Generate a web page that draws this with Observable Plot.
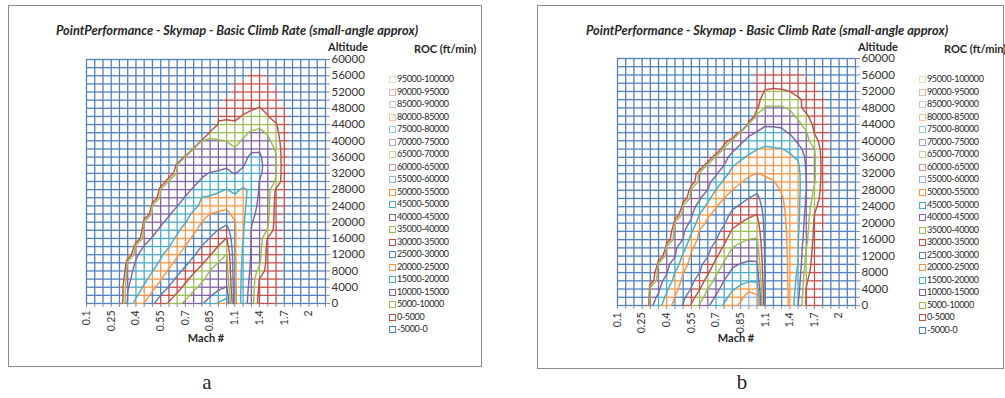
<!DOCTYPE html>
<html>
<head>
<meta charset="utf-8">
<script src="https://cdn.jsdelivr.net/npm/d3@7"></script>
<script src="https://cdn.jsdelivr.net/npm/@observablehq/plot@0.6"></script>
<style>
  body { margin: 0; background: #fff; }
  #page { position: relative; width: 1005px; height: 398px; overflow: hidden; background: #fff;
          font-family: Lato, "Open Sans", sans-serif; color: #262626; }
  .box { position: absolute; border: 1px solid #8c8c8c; box-sizing: border-box; }
  .title { position: absolute; font-weight: bold; font-style: italic; font-size: 12.8px; white-space: nowrap;
           transform: translateX(-50%); }
  .lbl { position: absolute; font-weight: bold; font-size: 11px; white-space: nowrap; }
  .leg { position: absolute; font-size: 9px; letter-spacing: -0.35px; white-space: nowrap; line-height: 10px; }
  .leg i { display: inline-block; width: 5px; height: 5px; border: 1px solid; background: #fff;
           margin-right: 1px; vertical-align: -1px; }
  .cap { position: absolute; font-family: "Liberation Serif", "DejaVu Serif", serif; font-size: 21px;
         transform: translateX(-50%); }
  .chart { position: absolute; }
</style>
</head>
<body>
<div id="page"></div>
<script>
// Mach number categories along the horizontal axis
const machLabels = ["0.1","0.15","0.2","0.25","0.3","0.35","0.4","0.45","0.5","0.55","0.6","0.65","0.7","0.75",
  "0.8","0.85","0.9","1","1.1","1.2","1.3","1.4","1.5","1.6","1.7","1.8","1.9","2","2.1","2.2"];

// Altitude rows (ft)
const altitudes = [0,2000,4000,6000,8000,10000,12000,14000,16000,18000,20000,22000,24000,26000,28000,30000,
  32000,34000,36000,38000,40000,42000,44000,46000,48000,50000,52000,54000,56000,58000,60000];

// ROC bands of the legend, lowest first, and the colour of each band
const bandLabels = ["-5000-0","0-5000","5000-10000","10000-15000","15000-20000","20000-25000","25000-30000",
  "30000-35000","35000-40000","40000-45000","45000-50000","50000-55000","55000-60000","60000-65000",
  "65000-70000","70000-75000","75000-80000","80000-85000","85000-90000","90000-95000","95000-100000"];
const bandColors = ["#4F81BD","#C0504D","#9BBB59","#8064A2","#4BACC6","#F79646","#4F81BD","#C0504D",
  "#9BBB59","#8064A2","#4BACC6","#F79646","#95B3D7","#D99694","#C3D69B","#B3A2C7","#93CDDD","#FAC090",
  "#B9CDE5","#E6B9B8","#D7E4BD"];

// Climb rate, thousands of ft/min: one row per altitude (0 ft first), one value per Mach category
const rocA = [
  [-20,-20,-20,-20,-2,15.8,21.7,25.2,29.2,32.5,35.6,38.5,40.9,42.7,44.5,47.5,50.5,52,27,17,13,2.5,1.5,0.5,-2,-4,-5,-5,-5,-5],
  [-20,-20,-20,-20,-3,15.2,19.2,22.7,26.2,30.1,32.9,35.9,38.8,41,42.8,44.5,46.8,49,26.5,17.3,13.2,3,2,0.8,-2,-4,-5,-5,-5,-5],
  [-20,-20,-20,-20,-2,14.7,17.6,20.6,23.8,27,30.3,33.2,36.2,39.1,41,42.4,43.9,45.2,26.5,17.6,13.5,4,2.5,1,-1.5,-4,-5,-5,-5,-5],
  [-20,-20,-20,-20,-6,14,16.6,18.9,21.6,24.7,27.8,30.9,33.8,36.7,39.4,41.1,42.6,44,26.2,18,13.8,4.8,3,1.5,-1,-4,-5,-5,-5,-5],
  [-20,-20,-20,-20,-12,13.5,16,17.9,19.8,22.6,25.6,28.5,31.4,34.2,37.1,40.2,41.2,42.5,26,18.4,14.2,8,3,1.8,-0.3,-4,-5,-5,-5,-5],
  [-20,-20,-20,-20,-25,12.5,15.3,17,18.7,20.6,23.5,26.3,28.9,31.7,34.4,37.4,40.1,41.5,26,18.8,14.5,10.8,3,1.8,-0.3,-4,-5,-5,-5,-5],
  [-20,-20,-20,-20,-20,-3,14.5,16.3,17.8,19.4,21.7,24.4,27,29.5,32.1,34.7,37.6,40.2,25.8,19.2,14.6,11.5,3.2,2,-0.3,-4,-5,-5,-5,-5],
  [-20,-20,-20,-20,-20,-20,13,15.2,16.6,18.2,19.8,22.5,25.2,27.6,30.2,32.5,35.2,37.5,25.7,19.6,14.7,12.2,3.5,2,-0.3,-4,-5,-5,-5,-5],
  [-20,-20,-20,-20,-20,-20,-4,13.5,15.3,17,18.7,20.6,23.3,25.9,28,30.3,32.8,35.2,25.6,20.2,14.8,12.8,4.5,2.2,-0.2,-4,-5,-5,-5,-5],
  [-20,-20,-20,-20,-20,-20,-15,12,13.9,15.7,17.5,19.3,21.6,24.2,26.3,28.1,30.2,32,25.5,20.5,14.9,13,9.5,2.5,-0.2,-4,-5,-5,-5,-5],
  [-20,-20,-20,-20,-20,-20,-40,11,12.7,14.3,16.1,18,19.8,22.5,25.1,26.4,27.7,29,25.3,20.9,15.3,13.3,10.8,2.8,-0.2,-4,-5,-5,-5,-5],
  [-20,-20,-20,-20,-20,-20,-20,-6,11,12.8,14.6,16.6,18.6,20.7,22.8,25.1,25.8,26.5,23.5,21.2,16.2,13.6,11.2,3,-0.1,-4,-5,-5,-5,-5],
  [-20,-20,-20,-20,-20,-20,-20,-30,10.5,11.9,13.4,14.9,17,19.1,20.7,21.8,22.9,24,22,21.4,17.2,13.9,11.6,3.2,0.3,-3,-5,-5,-5,-5],
  [-20,-20,-20,-20,-20,-20,-20,-20,-4,11.5,12.7,13.9,15.2,17.6,20.1,20.7,21.3,22,20.8,21.3,18.2,14.2,12,3.5,0.5,-3,-5,-5,-5,-5],
  [-20,-20,-20,-20,-20,-20,-20,-20,-18,10.5,11.7,12.9,14.1,15.4,16.7,17.9,19.2,20.1,19,20.6,19.3,14.5,12.3,4.2,1,-2,-5,-5,-5,-5],
  [-20,-20,-20,-20,-20,-20,-20,-20,-20,-4,11,12.1,13.2,14.3,15.4,16.2,17.1,18,17,18,19.8,14.8,12.5,9.5,1.5,-1,-5,-5,-5,-5],
  [-20,-20,-20,-20,-20,-20,-20,-20,-20,-20,-2,11,12.2,13.4,14.5,15.2,15.6,16,14.8,16.2,18.8,15.8,13,10.2,1.5,-1,-5,-5,-5,-5],
  [-20,-20,-20,-20,-20,-20,-20,-20,-20,-20,-30,10.5,11.2,11.8,12.5,13.2,13.8,14.4,13.3,14.6,17.6,16.2,13,10.4,1.5,-1,-5,-5,-5,-5],
  [-20,-20,-20,-20,-20,-20,-20,-20,-20,-20,-20,-20,11,11.5,12,12.5,13,13.5,11.8,13.2,16.2,15.7,12.8,10.3,1.5,-1,-5,-5,-5,-5],
  [-20,-20,-20,-20,-20,-20,-20,-20,-20,-20,-20,-20,-40,10.6,10.8,11.1,11.3,11.5,10.3,11.8,14,14.5,12,9.5,1.5,-1,-5,-5,-5,-5],
  [-20,-20,-20,-20,-20,-20,-20,-20,-20,-20,-20,-20,-20,-40,10.5,10.6,10.3,9.9,8.6,10.5,12,13,11,8,1.5,-1,-5,-5,-5,-5],
  [-20,-20,-20,-20,-20,-20,-20,-20,-20,-20,-20,-20,-20,-20,-40,8.5,8.2,8,7.3,9,10.5,11,9.5,6.5,1.5,-1,-5,-5,-5,-5],
  [-20,-20,-20,-20,-20,-20,-20,-20,-20,-20,-20,-20,-20,-20,-20,-20,7,6.5,5.6,7.2,8.5,9,8,5.5,1.5,-1,-5,-5,-5,-5],
  [-20,-20,-20,-20,-20,-20,-20,-20,-20,-20,-20,-20,-20,-20,-20,-20,2.5,4,4.2,5.3,6.5,7,5.2,3,1,-1.5,-5,-5,-5,-5],
  [-20,-20,-20,-20,-20,-20,-20,-20,-20,-20,-20,-20,-20,-20,-20,-20,1,2.5,3.2,4,4.5,5.2,4,2.5,0.3,-2,-5,-5,-5,-5],
  [-20,-20,-20,-20,-20,-20,-20,-20,-20,-20,-20,-20,-20,-20,-20,-20,-2,1,2.4,3,3.8,4,3,1.5,-1,-3,-5,-5,-5,-5],
  [-20,-20,-20,-20,-20,-20,-20,-20,-20,-20,-20,-20,-20,-20,-20,-20,-5,-2,1.5,2,3,3.3,2.2,0.5,-2,-4,-5,-5,-5,-5],
  [-20,-20,-20,-20,-20,-20,-20,-20,-20,-20,-20,-20,-20,-20,-20,-20,-5,-4,0.3,1,2,2.2,1.2,-0.5,-3,-4,-5,-5,-5,-5],
  [-20,-20,-20,-20,-20,-20,-20,-20,-20,-20,-20,-20,-20,-20,-20,-20,-5,-5,-2,-1,0.8,1,-0.2,-2,-4,-5,-5,-5,-5,-5],
  [-20,-20,-20,-20,-20,-20,-20,-20,-20,-20,-20,-20,-20,-20,-20,-20,-5,-5,-4,-3,-2,-1.5,-3,-4,-5,-5,-5,-5,-5,-5],
  [-20,-20,-20,-20,-20,-20,-20,-20,-20,-20,-20,-20,-20,-20,-20,-20,-5,-5,-5,-5,-5,-5,-5,-5,-5,-5,-5,-5,-5,-5]
];

const rocB = [
  [-20,-20,-20,-30,13.5,18.3,22.7,26.5,30.5,35.6,40.7,44.3,47.5,50.6,53.2,56,58,57.5,29.5,28,26.5,24.6,15.1,4.5,2.1,-0.2,-2.2,-3.5,-4,-4],
  [-20,-20,-20,-40,13,15.8,21.3,25.1,28.9,32.9,37.8,42.2,45.6,48.8,51.4,54,57,56,29.4,28,26.5,24.6,16.05,4.7,2.2,-0.2,-2.2,-3.5,-4,-4],
  [-20,-20,-20,-60,12.5,14.2,19.2,23.4,27.6,30.3,34.7,40.1,43.5,46.9,49.6,51.1,54,52.9,29.3,28,26.4,24.6,17.4,4.9,2.3,-0.2,-2.2,-3.5,-4,-4],
  [-20,-20,-20,-20,-1,13.5,16.4,21.7,26.2,29,32.2,37.1,41.4,45.1,47.9,48.9,49.6,49.4,29.2,28,26.4,24.5,18.25,5.5,2.4,-0.2,-2.2,-3.5,-4,-4],
  [-20,-20,-20,-20,-5,12.8,14.6,20.1,24.8,27.9,29.9,34.3,39.2,42.9,46.1,47,47.7,47.5,29.1,28,26.3,24.5,19,6.75,2.55,-0.2,-2.2,-3.5,-4,-4],
  [-20,-20,-20,-20,-40,12.2,13.9,17.1,22.8,26.8,29,31.9,36.6,40.8,44.2,45.2,45.8,45.6,29,27.9,26.3,24.5,19.8,7.9,2.7,-0.2,-2.2,-3.5,-4,-4],
  [-20,-20,-20,-20,-20,-4,13.2,14.8,20.8,25.8,28.1,29.8,34.1,38.5,42.1,43.2,43.8,43.8,28.9,27.9,26.2,24.5,20.1,8.9,2.9,-0.2,-2.2,-3.5,-4,-4],
  [-20,-20,-20,-20,-20,-40,12.5,14.1,18.1,24.3,27.2,28.8,31.8,36,40.1,41.2,41.9,42.1,28.8,27.8,26.1,24.4,20.1,10.1,3.1,-0.2,-2.2,-3.5,-4,-4],
  [-20,-20,-20,-20,-20,-20,-1,13.4,15.1,21.9,26.3,27.8,29.8,33.7,37.8,39.2,40.1,40.3,28.6,27.7,26,24.4,20.4,11.4,3.5,-0.2,-2.2,-3.5,-4,-4],
  [-20,-20,-20,-20,-20,-20,-6,12.7,14.2,19.3,25.4,26.8,28.5,31.5,35.7,37.1,38.1,38.6,28.4,27.6,25.9,24.4,20.8,12,3.75,-0.2,-2.2,-3.5,-4,-4],
  [-20,-20,-20,-20,-20,-20,-40,12,13.5,15.7,23.2,25.8,27.3,29.5,33.5,35.1,36.3,36.8,28.2,27.4,25.8,24.3,21.1,12.7,4.3,0.7,-2.4,-2.5,-3.5,-4],
  [-20,-20,-20,-20,-20,-20,-20,-2,12.7,14.4,20.3,24.5,26.1,28,31.3,32.8,34.3,35.1,28,27.2,25.6,24.3,21.3,13.3,4.85,1.6,-1,-2.5,-3.5,-4],
  [-20,-20,-20,-20,-20,-20,-20,-30,12,13.6,16.5,21.8,24.8,26.5,29.2,30.7,32.2,33.1,27.6,26.9,25.4,24.2,21.5,14.1,6.1,2.5,-0.2,-2.5,-3.5,-4],
  [-20,-20,-20,-20,-20,-20,-20,-20,-1,12.8,14.5,18.8,22.5,25.1,27.1,28.6,30.1,31.2,27.2,26.5,25.2,24.2,21.6,14.4,8,2.8,-0.2,-2.5,-3.5,-4],
  [-20,-20,-20,-20,-20,-20,-20,-20,-15,12,13.7,15.1,20.2,23,25.1,26.6,28.1,29.2,26.6,25.9,24.8,23.8,21.7,15.1,9.1,3.1,-0.2,-2.5,-3.5,-4],
  [-20,-20,-20,-20,-20,-20,-20,-20,-20,-0.5,12.8,14,16.8,21,23.3,24.7,26.2,27.2,25.8,25.2,24,23.2,21.7,15.1,10.5,3.2,-0.2,-2.5,-3.5,-4],
  [-20,-20,-20,-20,-20,-20,-20,-20,-20,-5,12,13,14.4,18.3,21.6,22.9,24.3,25.2,24.6,24.2,23.2,22.5,21.6,14.8,10.8,3.5,-0.2,-2.5,-3.5,-4],
  [-20,-20,-20,-20,-20,-20,-20,-20,-20,-20,-4,12,13.2,15.1,19.7,21.2,22.5,23.4,23.2,22.8,22.2,21.6,20.9,14.4,10.7,3.5,-0.2,-2.5,-3.5,-4],
  [-20,-20,-20,-20,-20,-20,-20,-20,-20,-20,-20,-4,12,13.5,16.6,19.2,20.7,21.7,21.8,21.5,21.1,20.6,19.4,14,10.7,3.2,-0.2,-2.5,-3.5,-4],
  [-20,-20,-20,-20,-20,-20,-20,-20,-20,-20,-20,-20,-6,12,14,16.4,18.6,19.9,20.5,20.3,20.1,19.4,16.9,12.9,10.1,2.8,-0.2,-2.5,-3.5,-4],
  [-20,-20,-20,-20,-20,-20,-20,-20,-20,-20,-20,-20,-20,-1,12,14,16.2,17.6,19,18.8,18.5,17.5,14,11.7,7,2.6,-0.2,-2.5,-3.5,-4],
  [-20,-20,-20,-20,-20,-20,-20,-20,-20,-20,-20,-20,-20,-20,-10,12,14,15.2,16.5,16.2,16,14.5,12.1,10.5,4.75,2.25,-0.2,-2.5,-3.5,-4],
  [-20,-20,-20,-20,-20,-20,-20,-20,-20,-20,-20,-20,-20,-20,-20,-40,12,13.6,14.5,14.5,14.2,13.3,11.5,7.8,3.96,1.9,-0.2,-2.5,-3.5,-4],
  [-20,-20,-20,-20,-20,-20,-20,-20,-20,-20,-20,-20,-20,-20,-20,-20,-10,12,12.5,12.5,12.3,11.5,9,5.6,3.3,1.1,-1,-2.5,-3.5,-4],
  [-20,-20,-20,-20,-20,-20,-20,-20,-20,-20,-20,-20,-20,-20,-20,-20,-10,4,10.5,10.5,10.5,9.5,6,3.8,2.2,0.2,-1.5,-3.5,-4,-4],
  [-20,-20,-20,-20,-20,-20,-20,-20,-20,-20,-20,-20,-20,-20,-20,-20,-10,3,8,8.2,8.2,7.3,5.8,3.8,2,0.3,-1.5,-3.5,-4,-4],
  [-20,-20,-20,-20,-20,-20,-20,-20,-20,-20,-20,-20,-20,-20,-20,-20,-10,2,5.5,5.8,5.6,5,3.5,2.5,1.2,-0.5,-2,-3.5,-4,-4],
  [-20,-20,-20,-20,-20,-20,-20,-20,-20,-20,-20,-20,-20,-20,-20,-20,-10,1.5,3,3.5,3.3,3,2.2,1.5,0.3,-1.5,-2.5,-3.5,-4,-4],
  [-20,-20,-20,-20,-20,-20,-20,-20,-20,-20,-20,-20,-20,-20,-20,-20,-10,0.5,1,1.3,1.2,1,0.8,-0.3,-1.5,-2.5,-3,-4,-4,-4],
  [-20,-20,-20,-20,-20,-20,-20,-20,-20,-20,-20,-20,-20,-20,-20,-20,-10,-1,-1,-1,-1.5,-1.5,-1.8,-2.5,-3,-3.5,-4,-4,-4,-4],
  [-20,-20,-20,-20,-20,-20,-20,-20,-20,-20,-20,-20,-20,-20,-20,-20,-10,-3,-3,-3,-4,-4,-4,-4,-4,-4,-4,-4,-4,-4]
];

const titleText = "PointPerformance - Skymap - Basic Climb Rate (small-angle approx)";
const bandStep = 5;                 // contour interval, thousands of ft/min
const lineLevels = [5,10,15,20,25,30,35,40,45,50,55];

// colour index of the band a value falls in (values below zero use the lowest band)
const bandOf = v => v < 0 ? 0 : Math.min(bandColors.length - 1, Math.floor(v / bandStep) + 1);

// Wireframe: every mesh edge is cut where it crosses a band boundary, each piece coloured by its band
function meshPieces(rows) {
  const out = [];
  const edge = (x1, y1, v1, x2, y2, v2) => {
    const cuts = [0, 1];
    const lo = Math.min(v1, v2), hi = Math.max(v1, v2);
    for (let t = 0; t <= 100; t += bandStep) if (t > lo && t < hi) cuts.push((t - v1) / (v2 - v1));
    cuts.sort((a, b) => a - b);
    for (let k = 0; k < cuts.length - 1; k++) {
      const a = cuts[k], b = cuts[k + 1];
      if (b - a < 1e-9) continue;
      const vm = v1 + (v2 - v1) * (a + b) / 2;
      out.push({x1: x1 + (x2 - x1) * a, y1: y1 + (y2 - y1) * a, x2: x1 + (x2 - x1) * b, y2: y1 + (y2 - y1) * b,
                color: bandColors[bandOf(vm)]});
    }
  };
  rows.forEach((row, j) => row.forEach((v, i) => {
    if (i + 1 < row.length) edge(i, altitudes[j], v, i + 1, altitudes[j], row[i + 1]);
    if (j + 1 < rows.length) edge(i, altitudes[j], v, i, altitudes[j + 1], rows[j + 1][i]);
  }));
  return out;
}

function skymap(rows, m) {
  const cols = machLabels.length, nrows = altitudes.length;
  const dy = altitudes[1] - altitudes[0];
  const grid = rows.flat();
  return Plot.plot({
    width: 400, height: 350,
    marginLeft: m.left, marginRight: m.right, marginTop: m.top, marginBottom: m.bottom,
    style: {fontFamily: "Lato, 'Open Sans', sans-serif", background: "transparent"},
    x: {domain: [0, cols - 1], axis: null},
    y: {domain: [altitudes[0], altitudes[nrows - 1]], axis: null},
    color: {type: "identity"},
    marks: [
      Plot.frame({stroke: "#a6a6a6"}),
      Plot.link(meshPieces(rows), {x1: "x1", y1: "y1", x2: "x2", y2: "y2", stroke: "color", strokeWidth: 1.3}),
      ...lineLevels.map(t => Plot.contour(grid, {
        value: d => d, width: cols, height: nrows,
        x1: -0.5, x2: cols - 0.5, y1: altitudes[0] - dy / 2, y2: altitudes[nrows - 1] + dy / 2,
        thresholds: [t], fill: "none", stroke: bandColors[t / bandStep], strokeWidth: 1.45, clip: true
      })),
      Plot.axisX(d3.range(cols), {anchor: "bottom", tickFormat: i => i % 3 === 0 ? machLabels[i] : "",
        tickRotate: -90, tickSize: 4, tickPadding: 3, fontSize: 10.5, label: null,
        stroke: "#8c8c8c", color: "#333"}),
      Plot.axisY(altitudes, {anchor: "right", tickFormat: d => d % 4000 === 0 ? String(d) : "",
        tickSize: 4, tickPadding: 2, fontSize: 11.5, label: null, stroke: "#8c8c8c", color: "#333"})
    ]
  });
}

const page = document.getElementById("page");
function add(html) { page.insertAdjacentHTML("beforeend", html); return page.lastElementChild; }

const panels = [
  {rows: rocA, svgLeft: 0, m: {left: 86, right: 75, top: 59, bottom: 47},
   box: [8, 5, 474, 362], titleX: 237, altX: 328, rocX: 414, legX: 389, legY: 79, legDy: 12.5,
   machX: 206, cap: "a", capX: 207},
  {rows: rocB, svgLeft: 530, m: {left: 87, right: 75, top: 58, bottom: 45},
   box: [537, 5, 467, 364], titleX: 767, altX: 858, rocX: 944, legX: 919, legY: 79, legDy: 12.55,
   machX: 736, cap: "b", capX: 742}
];

for (const p of panels) {
  const b = add(`<div class="box"></div>`);
  Object.assign(b.style, {left: p.box[0] + "px", top: p.box[1] + "px", width: p.box[2] + "px", height: p.box[3] + "px"});
  const holder = add(`<div class="chart"></div>`);
  holder.style.left = p.svgLeft + "px"; holder.style.top = "0px";
  holder.appendChild(skymap(p.rows, p.m));
  add(`<div class="title" style="left:${p.titleX}px;top:22px">${titleText}</div>`);
  add(`<div class="lbl" style="left:${p.altX}px;top:40px">Altitude</div>`);
  add(`<div class="lbl" style="left:${p.rocX}px;top:42px">ROC (ft/min)</div>`);
  add(`<div class="lbl" style="left:${p.machX}px;top:331px;transform:translateX(-50%)">Mach #</div>`);
  bandLabels.slice().reverse().forEach((label, k) => {
    const color = bandColors[bandLabels.length - 1 - k];
    add(`<div class="leg" style="left:${p.legX}px;top:${p.legY + k * p.legDy - 5}px"><i style="border-color:${color}"></i>${label}</div>`);
  });
  add(`<div class="cap" style="left:${p.capX}px;top:370px">${p.cap}</div>`);
}
</script>
</body>
</html>
